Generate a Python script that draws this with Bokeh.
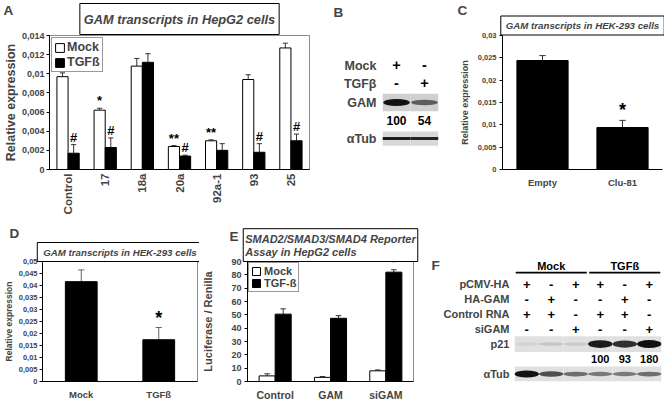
import math
import numpy as np
from bokeh.plotting import figure
from bokeh.models import (FactorRange, Range1d, CategoricalAxis, FixedTicker, Title,
                          Label, Legend, LegendItem, ColumnDataSource)
from bokeh.transform import dodge
from bokeh.layouts import column, row
from bokeh.core.properties import value
from bokeh.embed import file_html
from bokeh.resources import INLINE

FONT = "Liberation Sans"
OUTLINE = "#8c8c8c"
ERR = "#333333"
BAND = "#111111"

# ---------------- Panel A data ----------------
a_cats = ["Control", "17", "18a", "20a", "92a-1", "93", "25"]
a_mock = [0.0097, 0.0062, 0.0108, 0.0024, 0.0030, 0.0094, 0.0127]
a_mock_sd = [0.0004, 0.0002, 0.0008, 0.0001, 0.0001, 0.0005, 0.0005]
a_tgf = [0.0017, 0.0023, 0.0112, 0.0014, 0.0020, 0.0018, 0.0030]
a_tgf_sd = [0.0009, 0.0010, 0.0009, 0.0001, 0.0007, 0.0009, 0.0007]
a_mock_sig = ["", "*", "", "**", "**", "", ""]
a_tgf_sig = ["#", "#", "", "#", "", "#", "#"]
a_yticks = [0, 0.002, 0.004, 0.006, 0.008, 0.010, 0.012, 0.014]
a_ylabels = ["0", "0,002", "0,004", "0,006", "0,008", "0,01", "0,012", "0,014"]

# ---------------- Panel B data ----------------
b_lanes = ["1", "2"]
b_rows = ["Mock", "TGFβ", "GAM", " ", "αTub"]
b_mock = ["+", "-"]
b_tgf = ["-", "+"]
b_gam = [1.0, 0.6]
b_gam_quant = ["100", "54"]
b_tub = [0.95, 0.9]

# ---------------- Panel C data ----------------
c_cats = ["Empty", "Clu-81"]
c_vals = [0.0244, 0.0094]
c_sd = [0.0011, 0.0016]
c_sig = ["", "*"]
c_yticks = [0, 0.005, 0.01, 0.015, 0.02, 0.025, 0.03]
c_ylabels = ["0", "0,005", "0,01", "0,015", "0,02", "0,025", "0,03"]

# ---------------- Panel D data ----------------
d_cats = ["Mock", "TGFß"]
d_vals = [0.0416, 0.0174]
d_sd = [0.0049, 0.0051]
d_sig = ["", "*"]
d_yticks = [0, 0.005, 0.01, 0.015, 0.02, 0.025, 0.03, 0.035, 0.04, 0.045, 0.05]
d_ylabels = ["0", "0,005", "0,01", "0,015", "0,02", "0,025", "0,03", "0,035", "0,04", "0,045", "0,05"]

# ---------------- Panel E data ----------------
e_cats = ["Control", "GAM", "siGAM"]
e_mock = [4.2, 3.1, 8.0]
e_mock_sd = [1.6, 0.6, 0.7]
e_tgf = [50.5, 47.4, 82.0]
e_tgf_sd = [4.0, 2.0, 1.8]
e_tgf_sig = ["", "", "*"]
e_yticks = [0, 10, 20, 30, 40, 50, 60, 70, 80, 90]
e_ylabels = ["0", "10", "20", "30", "40", "50", "60", "70", "80", "90"]

# ---------------- Panel F data ----------------
f_groups = ["Mock", "Mock", "Mock", "TGFß", "TGFß", "TGFß"]
f_lane_ids = ["1", "2", "3", "4", "5", "6"]
f_rows = ["  ", "pCMV-HA", "HA-GAM", "Control RNA", "siGAM", "p21", " ", "αTub"]
f_pcmv = ["+", "-", "+", "+", "-", "+"]
f_hagam = ["-", "+", "-", "-", "+", "-"]
f_ctrl = ["+", "+", "-", "+", "+", "-"]
f_sigam = ["-", "-", "+", "-", "-", "+"]
f_p21 = [0.06, 0.12, 0.10, 0.95, 0.85, 1.0]
f_p21_quant = ["", "", "", "100", "93", "180"]
f_tub = [1.0, 0.7, 0.55, 0.5, 0.5, 0.55]

# row geometry shared by the figures of one row (frames are aligned by the layout)
TOP_H, TOP_T, TOP_B = 220, 31, 51
BOT_H, BOT_T, BOT_B = 183, 41, 20


def make_fig(W, H, L, R, T, B, x_range, y_range, y_axis=True):
    p = figure(width=W, height=H, x_range=x_range, y_range=y_range,
               x_axis_location=None, y_axis_location=("left" if y_axis else None),
               toolbar_location=None, output_backend="svg",
               min_border_left=L, min_border_right=R, min_border_top=T, min_border_bottom=B)
    p.grid.visible = False
    p.outline_line_color = None
    p.background_fill_color = "white"
    p.border_fill_color = "white"
    return p


def letter(p, txt, x, y, place):
    # placed in a side panel with spare room so that it is not clipped to the plot frame
    p.add_layout(Label(x=x, y=y, x_units="canvas", y_units="canvas", text=txt,
                       text_font=FONT, text_font_style="bold", text_font_size="13.5px",
                       text_baseline="top", text_align="left"), place)


def style_title(t, txt, fs, pad, standoff=1, lh=1.2):
    t.text = txt
    t.align = "center"
    t.text_font = FONT
    t.text_font_style = "bold italic"
    t.text_font_size = fs
    t.text_line_height = lh
    t.border_line_color = "black"
    t.border_line_width = 1
    t.background_fill_color = "white"
    t.padding = pad
    t.standoff = standoff
    t.offset = 0


def style_y(p, ticks, labels, fs, ylabel, lfs, lstand, mstand=2):
    ax = p.yaxis[0]
    fticks = [float(t) for t in ticks]
    ax.ticker = FixedTicker(ticks=fticks)
    ax.major_label_overrides = dict(zip(fticks, labels))
    ax.major_label_text_font = FONT
    ax.major_label_text_font_style = "bold"
    ax.major_label_text_font_size = fs
    ax.major_label_standoff = mstand
    ax.major_tick_out = 3
    ax.major_tick_in = 0
    ax.minor_tick_line_color = None
    ax.axis_line_color = "black"
    ax.axis_label = ylabel
    ax.axis_label_text_font = FONT
    ax.axis_label_text_font_style = "bold"
    ax.axis_label_text_font_size = lfs
    ax.axis_label_standoff = lstand


def add_cat_x(p, fs, orient, standoff):
    cax = CategoricalAxis(axis_line_color="black", major_tick_line_color=None, major_tick_out=0,
                          major_tick_in=0, major_label_standoff=standoff,
                          major_label_text_font=FONT, major_label_text_font_style="bold",
                          major_label_text_font_size=fs, major_label_orientation=orient)
    p.add_layout(cax, "below")


def errbars(p, src, xfield, off, lo, hi, cap, color=ERR):
    p.segment(x0=dodge(xfield, off, range=p.x_range), y0=lo,
              x1=dodge(xfield, off, range=p.x_range), y1=hi,
              source=src, line_color=color, line_width=1)
    p.segment(x0=dodge(xfield, off - cap, range=p.x_range), y0=hi,
              x1=dodge(xfield, off + cap, range=p.x_range), y1=hi,
              source=src, line_color=color, line_width=1)


def sig_text(p, src, xfield, off, yfield, tfield, fs):
    p.text(x=dodge(xfield, off, range=p.x_range), y=yfield, text=tfield, source=src,
           text_align="center", text_baseline="bottom", text_font=value(FONT),
           text_font_style="bold", text_font_size=fs, text_color="black")


def row_axis(p, fs, standoff):
    ax = p.yaxis[0]
    ax.axis_line_color = None
    ax.major_tick_line_color = None
    ax.major_tick_out = 0
    ax.major_tick_in = 0
    ax.major_label_standoff = standoff
    ax.major_label_text_font = FONT
    ax.major_label_text_font_style = "bold"
    ax.major_label_text_font_size = fs


# ======================= Panel A =======================
pA = make_fig(330, TOP_H, 48, 21, TOP_T, TOP_B, FactorRange(*a_cats, range_padding=0),
              Range1d(0, a_yticks[-1]))
pA.outline_line_color = OUTLINE
srcA = ColumnDataSource(dict(cat=a_cats, mock=a_mock, mock_top=list(np.add(a_mock, a_mock_sd)),
                             tgf=a_tgf, tgf_top=list(np.add(a_tgf, a_tgf_sd)),
                             msig=a_mock_sig, tsig=a_tgf_sig))
bw = 0.3
errbars(pA, srcA, "cat", -bw / 2, "mock", "mock_top", 0.07)
errbars(pA, srcA, "cat", bw / 2, "tgf", "tgf_top", 0.07)
rmA = pA.vbar(x=dodge("cat", -bw / 2, range=pA.x_range), top="mock", width=bw, source=srcA,
              fill_color="white", line_color="black", line_width=1)
rtA = pA.vbar(x=dodge("cat", bw / 2, range=pA.x_range), top="tgf", width=bw, source=srcA,
              fill_color="black", line_color="black", line_width=1)
sig_text(pA, srcA, "cat", -bw / 2, "mock_top", "msig", "13px")
sig_text(pA, srcA, "cat", bw / 2, "tgf_top", "tsig", "13px")
style_y(pA, a_yticks, a_ylabels, "9px", "Relative expression", "12.5px", 1, 2)
add_cat_x(pA, "11.5px", math.pi / 2, 4)
style_title(pA.title, "GAM transcripts in HepG2 cells", "12.8px", dict(left=4, right=4, top=8, bottom=8), 2)
legA = Legend(items=[LegendItem(label="Mock", renderers=[rmA]), LegendItem(label="TGFß", renderers=[rtA])],
              location="top_left", margin=2, padding=2, spacing=1,
              label_text_font=FONT, label_text_font_style="bold", label_text_font_size="12.5px",
              glyph_width=11, glyph_height=11, label_standoff=2, label_height=13,
              border_line_color="#333333", background_fill_alpha=1)
pA.add_layout(legA)
letter(pA, "A", 3, 2, "right")

# ======================= Panel B =======================
pB = make_fig(120, TOP_H, 52, 12, TOP_T, TOP_B, FactorRange(*b_lanes),
              FactorRange(*b_rows[::-1], range_padding=1.21, range_padding_units="absolute"))
row_axis(pB, "12.5px", 6)
srcBs = ColumnDataSource(dict(lane=b_lanes + b_lanes, row=[b_rows[0]] * 2 + [b_rows[1]] * 2,
                              txt=b_mock + b_tgf))
pB.text(x="lane", y=dodge("row", 0.1, range=pB.y_range), text="txt", source=srcBs,
        text_align="center", text_baseline="middle",
        text_font=value(FONT), text_font_style="bold", text_font_size="14.5px")
srcBg = ColumnDataSource(dict(lane=b_lanes, row=[b_rows[2]] * 2, inten=b_gam,
                              h=[3 + 4 * v for v in b_gam], quant=b_gam_quant,
                              qrow=[b_rows[3]] * 2))
srcBt = ColumnDataSource(dict(lane=b_lanes, row=[b_rows[4]] * 2, inten=b_tub))
pB.rect(x="lane", y="row", width=1, height=0.97, source=srcBg, fill_color="#cfcfcf", line_color=None)
pB.rect(x="lane", y="row", width=1, height=0.8, source=srcBt, fill_color="#d8d8d8", line_color=None)
pB.ellipse(x="lane", y="row", width=0.95, height="h", height_units="screen", source=srcBg,
           fill_color=BAND, fill_alpha="inten", line_color=None)
pB.rect(x="lane", y="row", width=1.0, height=3, height_units="screen", source=srcBt,
        fill_color=BAND, fill_alpha="inten", line_color=None)
pB.text(x="lane", y="qrow", text="quant", source=srcBg, text_align="center", text_baseline="middle",
        text_font=value(FONT), text_font_style="bold", text_font_size="12px")
letter(pB, "B", 3, 4, "above")

# ======================= Panel C =======================
pC = make_fig(214, TOP_H, 52, 2, TOP_T, TOP_B, FactorRange(*c_cats, range_padding=0),
              Range1d(0, c_yticks[-1]))
srcC = ColumnDataSource(dict(cat=c_cats, val=c_vals, top=list(np.add(c_vals, c_sd)), sig=c_sig))
errbars(pC, srcC, "cat", 0, "val", "top", 0.04)
pC.vbar(x="cat", top="val", width=0.64, source=srcC, fill_color="black", line_color="black")
sig_text(pC, srcC, "cat", 0, "top", "sig", "18px")
style_y(pC, c_yticks, c_ylabels, "7.5px", "Relative expression", "9px", 5, 3)
add_cat_x(pC, "9.5px", "horizontal", 7)
style_title(pC.title, "GAM transcripts in HEK-293 cells", "9.7px", dict(left=5, right=5, top=4, bottom=4), 1)
letter(pC, "C", 7, 2, "below")

# ======================= Panel D =======================
pD = make_fig(199, BOT_H, 36, 2, BOT_T, BOT_B, FactorRange(*d_cats, range_padding=0),
              Range1d(0, d_yticks[-1]))
pD.outline_line_color = OUTLINE
srcD = ColumnDataSource(dict(cat=d_cats, val=d_vals, top=list(np.add(d_vals, d_sd)), sig=d_sig))
errbars(pD, srcD, "cat", 0, "val", "top", 0.04, "#666666")
pD.vbar(x="cat", top="val", width=0.41, source=srcD, fill_color="black", line_color="black")
sig_text(pD, srcD, "cat", 0, "top", "sig", "18px")
style_y(pD, d_yticks, d_ylabels, "7.5px", "Relative expression", "8.5px", 2, 2)
add_cat_x(pD, "9.5px", "horizontal", 7)
tD = Title()
style_title(tD, "GAM transcripts in HEK-293 cells", "9.7px", dict(left=6, right=6, top=4, bottom=4), 0)
pD.add_layout(tD, "above")
# panel letter as the plot's own (outermost) title, shifted to the left edge
pD.title.text = "D"
pD.title.align = "left"
pD.title.offset = -33
pD.title.standoff = 0
pD.title.text_font = FONT
pD.title.text_font_style = "bold"
pD.title.text_font_size = "13.5px"

# ======================= Panel E =======================
pE = make_fig(225, BOT_H, 43, 11, BOT_T, BOT_B, FactorRange(*e_cats, range_padding=0),
              Range1d(0, e_yticks[-1]))
pE.outline_line_color = OUTLINE
srcE = ColumnDataSource(dict(cat=e_cats, mock=e_mock, mock_top=list(np.add(e_mock, e_mock_sd)),
                             tgf=e_tgf, tgf_top=list(np.add(e_tgf, e_tgf_sd)), tsig=e_tgf_sig))
ebw = 0.29
errbars(pE, srcE, "cat", -ebw / 2, "mock", "mock_top", 0.05)
errbars(pE, srcE, "cat", ebw / 2, "tgf", "tgf_top", 0.05)
rmE = pE.vbar(x=dodge("cat", -ebw / 2, range=pE.x_range), top="mock", width=ebw, source=srcE,
              fill_color="white", line_color="black")
rtE = pE.vbar(x=dodge("cat", ebw / 2, range=pE.x_range), top="tgf", width=ebw, source=srcE,
              fill_color="black", line_color="black")
sig_text(pE, srcE, "cat", ebw / 2, "tgf_top", "tsig", "14px")
style_y(pE, e_yticks, e_ylabels, "9px", "Luciferase / Renilla", "11px", 14, 3)
add_cat_x(pE, "10.5px", "horizontal", 7)
style_title(pE.title, "SMAD2/SMAD3/SMAD4 Reporter\nAssay in HepG2 cells", "11px",
            dict(left=2, right=2, top=4, bottom=3), 0, 1.15)
legE = Legend(items=[LegendItem(label="Mock", renderers=[rmE]), LegendItem(label="TGF-ß", renderers=[rtE])],
              location="top_left", margin=1, padding=2, spacing=0,
              label_text_font=FONT, label_text_font_style="bold", label_text_font_size="11px",
              glyph_width=10, glyph_height=10, label_standoff=3, label_height=12,
              border_line_color="#333333", background_fill_alpha=1)
pE.add_layout(legE)
letter(pE, "E", 30, 8, "right")

# ======================= Panel F =======================
f_lanes = list(zip(f_groups, f_lane_ids))
pF = make_fig(240, BOT_H, 90, 3, BOT_T, BOT_B,
              FactorRange(*f_lanes, group_padding=0, factor_padding=0),
              FactorRange(*f_rows[::-1]))
row_axis(pF, "11px", 5)
grp_names = list(dict.fromkeys(f_groups))
grp_first = [f_lanes[f_groups.index(g)] for g in grp_names]
grp_last = [f_lanes[len(f_groups) - 1 - f_groups[::-1].index(g)] for g in grp_names]
srcFh = ColumnDataSource(dict(g=grp_names, first=grp_first, last=grp_last, row=[f_rows[0]] * len(grp_names)))
pF.text(x="g", y=dodge("row", 0.2, range=pF.y_range), text="g", source=srcFh, text_align="center",
        text_baseline="middle", text_font=value(FONT), text_font_style="bold", text_font_size="11px")
pF.segment(x0=dodge("first", -0.45, range=pF.x_range), y0=dodge("row", -0.24, range=pF.y_range),
           x1=dodge("last", 0.45, range=pF.x_range), y1=dodge("row", -0.24, range=pF.y_range),
           source=srcFh, line_color="black", line_width=1.6)
sign_rows = [(f_rows[1], f_pcmv), (f_rows[2], f_hagam), (f_rows[3], f_ctrl), (f_rows[4], f_sigam)]
srcFs = ColumnDataSource(dict(lane=[l for _ in sign_rows for l in f_lanes],
                              row=[r for r, s in sign_rows for _ in f_lanes],
                              txt=[t for _, s in sign_rows for t in s]))
pF.text(x="lane", y="row", text="txt", source=srcFs, text_align="center", text_baseline="middle",
        text_font=value(FONT), text_font_style="bold", text_font_size="13px")
srcFp = ColumnDataSource(dict(lane=f_lanes, row=[f_rows[5]] * 6, inten=f_p21,
                              h=[3 + 5 * v for v in f_p21], quant=f_p21_quant, qrow=[f_rows[6]] * 6))
srcFt = ColumnDataSource(dict(lane=f_lanes, row=[f_rows[7]] * 6, inten=f_tub,
                              h=[2 + 5 * v for v in f_tub]))
pF.rect(x="lane", y="row", width=1, height=1.05, source=srcFp, fill_color="#e0e0e0", line_color=None)
pF.rect(x="lane", y="row", width=1, height=1.0, source=srcFt, fill_color="#e0e0e0", line_color=None)
pF.ellipse(x="lane", y="row", width=1.0, height="h", height_units="screen", source=srcFp,
           fill_color=BAND, fill_alpha="inten", line_color=None)
pF.ellipse(x="lane", y="row", width=1.0, height="h", height_units="screen", source=srcFt,
           fill_color=BAND, fill_alpha="inten", line_color=None)
pF.text(x="lane", y="qrow", text="quant", source=srcFp, text_align="center", text_baseline="middle",
        text_font=value(FONT), text_font_style="bold", text_font_size="11px")
letter(pF, "F", 7, 37, "above")

layout = column(row(pA, pB, pC), row(pD, pE, pF))
open("out.html", "w").write(file_html(layout, INLINE))
